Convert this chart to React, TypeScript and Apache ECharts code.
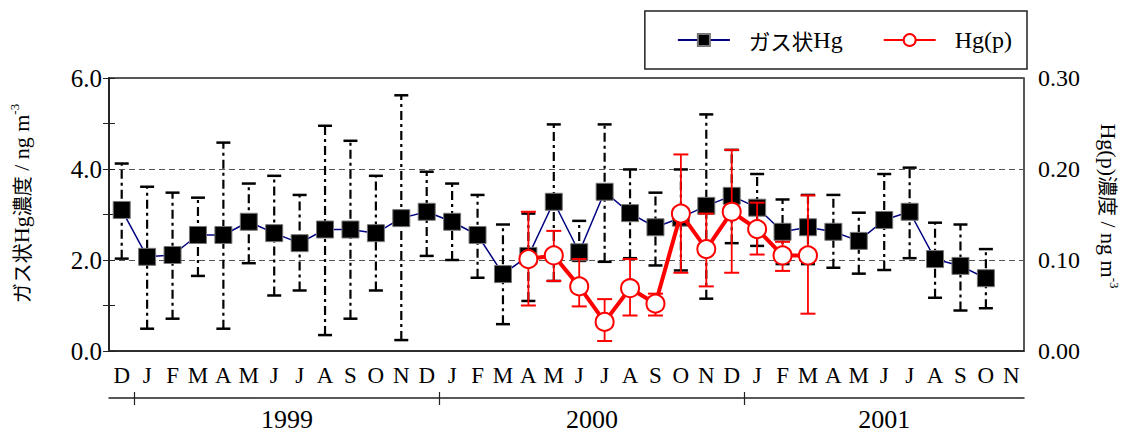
import React, { useEffect, useRef } from "react";
import * as echarts from "echarts";

// Monthly categories, December 1998 through November 2001
const months = [
  "D", "J", "F", "M", "A", "M", "J", "J", "A", "S", "O", "N",
  "D", "J", "F", "M", "A", "M", "J", "J", "A", "S", "O", "N",
  "D", "J", "F", "M", "A", "M", "J", "J", "A", "S", "O", "N",
];
const firstYear = 1998;
const firstMonth = 12;
const yearLabels = ["1999", "2000", "2001"];

// Gaseous Hg (ng m-3): monthly mean, max and min
const gasMean = [
  3.1, 2.07, 2.11, 2.55, 2.55, 2.84, 2.59, 2.37, 2.67, 2.67, 2.59, 2.92,
  3.06, 2.84, 2.55, 1.69, 2.09, 3.28, 2.17, 3.5, 3.03, 2.72, 2.93, 3.19,
  3.41, 3.15, 2.62, 2.72, 2.62, 2.42, 2.88, 3.06, 2.02, 1.87, 1.6, null,
];
const gasHigh = [
  4.12, 3.61, 3.48, 3.37, 4.58, 3.68, 3.85, 3.43, 4.95, 4.62, 3.85, 5.62,
  3.94, 3.68, 3.43, 2.78, 3.02, 4.98, 2.86, 4.98, 3.99, 3.48, 3.99, 5.2,
  4.42, 3.89, 3.33, 3.43, 3.43, 3.04, 3.89, 4.03, 2.82, 2.78, 2.24, null,
];
const gasLow = [
  2.03, 0.49, 0.71, 1.65, 0.49, 1.93, 1.22, 1.33, 0.35, 0.71, 1.33, 0.24,
  2.09, 2.0, 1.61, 0.59, 1.1, 1.54, 1.98, 1.96, 2.04, 1.88, 1.77, 1.15,
  2.37, 2.31, 1.91, 1.91, 1.83, 1.7, 1.78, 2.04, 1.17, 0.89, 0.94, null,
];

// Particulate Hg(p) (ng m-3): monthly mean, max and min
const pMean = [
  null, null, null, null, null, null, null, null, null, null, null, null,
  null, null, null, null, 0.101, 0.105, 0.071, 0.032, 0.069, 0.052, 0.151, 0.112,
  0.153, 0.134, 0.105, 0.105, null, null, null, null, null, null, null, null,
];
const pHigh = [
  null, null, null, null, null, null, null, null, null, null, null, null,
  null, null, null, null, 0.153, 0.132, 0.101, 0.057, 0.101, 0.063, 0.216, 0.151,
  0.221, 0.163, 0.12, 0.171, null, null, null, null, null, null, null, null,
];
const pLow = [
  null, null, null, null, null, null, null, null, null, null, null, null,
  null, null, null, null, 0.05, 0.077, 0.049, 0.011, 0.039, 0.039, 0.086, 0.071,
  0.086, 0.106, 0.088, 0.041, null, null, null, null, null, null, null, null,
];

const SERIF = "'Liberation Serif', 'Times New Roman', serif";
const JP = "'Noto Sans CJK JP', sans-serif";

function yearSpans() {
  const yearOf = months.map((_, i) => firstYear + Math.floor((firstMonth - 1 + i) / 12));
  return yearLabels.map((label) => {
    const y = Number(label);
    const idx = yearOf.map((v, i) => (v === y ? i : -1)).filter((i) => i >= 0);
    const start = idx[0];
    const end = idx[idx.length - 1] + 1;
    return { label, start, center: (start + end) / 2 };
  });
}

function errorData(lo: (number | null)[], hi: (number | null)[]) {
  const out: number[][] = [];
  lo.forEach((l, i) => {
    const h = hi[i];
    if (l != null && h != null) out.push([i, l, h]);
  });
  return out;
}

function errorBarRenderer(color: string, width: number, dash: number[] | null, capHalf: number, capWidth: number) {
  return (params: any, api: any) => {
    const x = api.value(0);
    const lo = api.coord([x, api.value(1)]);
    const hi = api.coord([x, api.value(2)]);
    const stem: any = { stroke: color, lineWidth: width };
    if (dash) stem.lineDash = dash;
    return {
      type: "group",
      children: [
        { type: "line", shape: { x1: lo[0], y1: lo[1], x2: hi[0], y2: hi[1] }, style: stem },
        { type: "line", shape: { x1: hi[0] - capHalf, y1: hi[1], x2: hi[0] + capHalf, y2: hi[1] }, style: { stroke: color, lineWidth: capWidth } },
        { type: "line", shape: { x1: lo[0] - capHalf, y1: lo[1], x2: lo[0] + capHalf, y2: lo[1] }, style: { stroke: color, lineWidth: capWidth } },
      ],
    };
  };
}

const nameRich = {
  jp: { fontFamily: JP, fontSize: 20, color: "#000", lineHeight: 26 },
  en: { fontFamily: SERIF, fontSize: 22, color: "#000", lineHeight: 26 },
  sup: { fontFamily: SERIF, fontSize: 13, color: "#000", lineHeight: 12, verticalAlign: "top" },
};

export default function App() {
  const ref = useRef<HTMLDivElement>(null);

  useEffect(() => {
    document.body.style.margin = "0";
    if (!ref.current) return;
    const chart = echarts.init(ref.current, undefined, { renderer: "svg" });
    const spans = yearSpans();
    const lineColor = "#222";

    chart.setOption({
      animation: false,
      backgroundColor: "#fff",
      grid: {
        left: 108,
        right: 103,
        top: 78,
        bottom: 83,
        show: true,
        borderColor: lineColor,
        borderWidth: 1.5,
      },
      legend: {
        right: 102,
        top: 11,
        orient: "horizontal",
        backgroundColor: "#fff",
        borderColor: lineColor,
        borderWidth: 1.5,
        padding: [17, 15, 17, 32],
        itemGap: 40,
        itemWidth: 52,
        itemHeight: 15,
        data: ["ガス状Hg", "Hg(p)"],
        formatter: (name: string) =>
          name === "ガス状Hg" ? "{jp|ガス状}{en|Hg}" : "{en2|Hg(p)}",
        textStyle: {
          rich: {
            jp: { fontFamily: JP, fontSize: 21.5, color: "#000", padding: [0, 0, 0, 14] },
            en: { fontFamily: SERIF, fontSize: 24, color: "#000" },
            en2: { fontFamily: SERIF, fontSize: 24, color: "#000", padding: [0, 0, 0, 14] },
          },
        },
      },
      xAxis: [
        {
          type: "category",
          data: months,
          boundaryGap: true,
          position: "bottom",
          axisLine: { lineStyle: { color: lineColor, width: 1.5 } },
          axisTick: { inside: true, length: 7, lineStyle: { color: lineColor, width: 1 } },
          axisLabel: { fontFamily: SERIF, fontSize: 23, color: "#000", margin: 13, interval: 0 },
          splitLine: { show: false },
        },
        {
          type: "value",
          min: 0,
          max: months.length,
          position: "bottom",
          offset: 47,
          axisLine: { show: true, onZero: false, lineStyle: { color: lineColor, width: 1.5 } },
          axisTick: {
            show: true,
            customValues: spans.map((s) => s.start),
            inside: true,
            length: 6,
            lineStyle: { color: lineColor, width: 1.2 },
          },
          axisLabel: {
            customValues: spans.map((s) => s.center),
            formatter: (v: number) => {
              const hit = spans.find((s) => Math.abs(s.center - v) < 0.01);
              return hit ? hit.label : "";
            },
            fontFamily: SERIF,
            fontSize: 26,
            color: "#000",
            margin: 8,
          },
          splitLine: { show: false },
        },
        {
          type: "value",
          min: 0,
          max: months.length,
          position: "bottom",
          offset: 47,
          axisLine: { show: false, onZero: false },
          axisTick: {
            show: true,
            customValues: spans.map((s) => s.start),
            inside: false,
            length: 7,
            lineStyle: { color: lineColor, width: 1.2 },
          },
          axisLabel: { show: false },
          splitLine: { show: false },
        },
      ],
      yAxis: [
        {
          type: "value",
          min: 0,
          max: 6,
          interval: 2,
          position: "left",
          name: "{jp|ガス状}{en|Hg}{jp|濃度}{en| / ng m}{sup|-3}",
          nameLocation: "middle",
          nameRotate: 90,
          nameGap: 75,
          nameTextStyle: { rich: nameRich, padding: [0, 0, 0, 22] },
          axisLine: { show: true, lineStyle: { color: lineColor, width: 1.5 } },
          axisTick: { inside: true, length: 6, lineStyle: { color: lineColor } },
          minorTick: { show: true, splitNumber: 2, length: 6, lineStyle: { color: lineColor } },
          axisLabel: {
            formatter: (v: number) => v.toFixed(1),
            fontFamily: SERIF,
            fontSize: 25,
            color: "#000",
            margin: 7,
          },
          splitLine: { show: true, lineStyle: { color: "#555", width: 1, type: [6, 4] } },
        },
        {
          type: "value",
          min: 0,
          max: 0.3,
          interval: 0.1,
          position: "right",
          name: "{en|Hg(p)}{jp|濃度}{en| / ng m}{sup|-3}",
          nameLocation: "middle",
          nameRotate: -90,
          nameGap: 71,
          nameTextStyle: { rich: nameRich, padding: [0, 17, 0, 0] },
          axisLine: { show: true, lineStyle: { color: lineColor, width: 1.5 } },
          axisTick: { inside: true, length: 6, lineStyle: { color: lineColor } },
          minorTick: { show: true, splitNumber: 2, length: 6, lineStyle: { color: lineColor } },
          axisLabel: {
            formatter: (v: number) => v.toFixed(2),
            fontFamily: SERIF,
            fontSize: 24,
            color: "#000",
            margin: 14,
          },
          splitLine: { show: false },
        },
      ],
      series: [
        {
          type: "custom",
          name: "gasRange",
          xAxisIndex: 0,
          yAxisIndex: 0,
          z: 2,
          silent: true,
          encode: { x: 0, y: [1, 2] },
          data: errorData(gasLow, gasHigh),
          renderItem: errorBarRenderer("#000", 2.2, [9, 4, 3, 4], 7, 2.5),
        },
        {
          type: "line",
          name: "ガス状Hg",
          xAxisIndex: 0,
          yAxisIndex: 0,
          z: 3,
          data: gasMean,
          symbol: "rect",
          symbolSize: 17,
          connectNulls: false,
          lineStyle: { color: "#000080", width: 1.5 },
          itemStyle: { color: "#000", borderColor: "#777", borderWidth: 1 },
        },
        {
          type: "custom",
          name: "pRange",
          xAxisIndex: 0,
          yAxisIndex: 1,
          z: 4,
          silent: true,
          encode: { x: 0, y: [1, 2] },
          data: errorData(pLow, pHigh),
          renderItem: errorBarRenderer("#ff0000", 1.8, null, 7.5, 2),
        },
        {
          type: "line",
          name: "Hg(p)",
          xAxisIndex: 0,
          yAxisIndex: 1,
          z: 5,
          data: pMean,
          symbol: "circle",
          symbolSize: 18,
          showSymbol: true,
          connectNulls: false,
          lineStyle: { color: "#ff0000", width: 4 },
          itemStyle: { color: "#fff", borderColor: "#ff0000", borderWidth: 2 },
        },
      ],
    });

    return () => chart.dispose();
  }, []);

  return <div ref={ref} style={{ width: 1129, height: 434 }} />;
}
